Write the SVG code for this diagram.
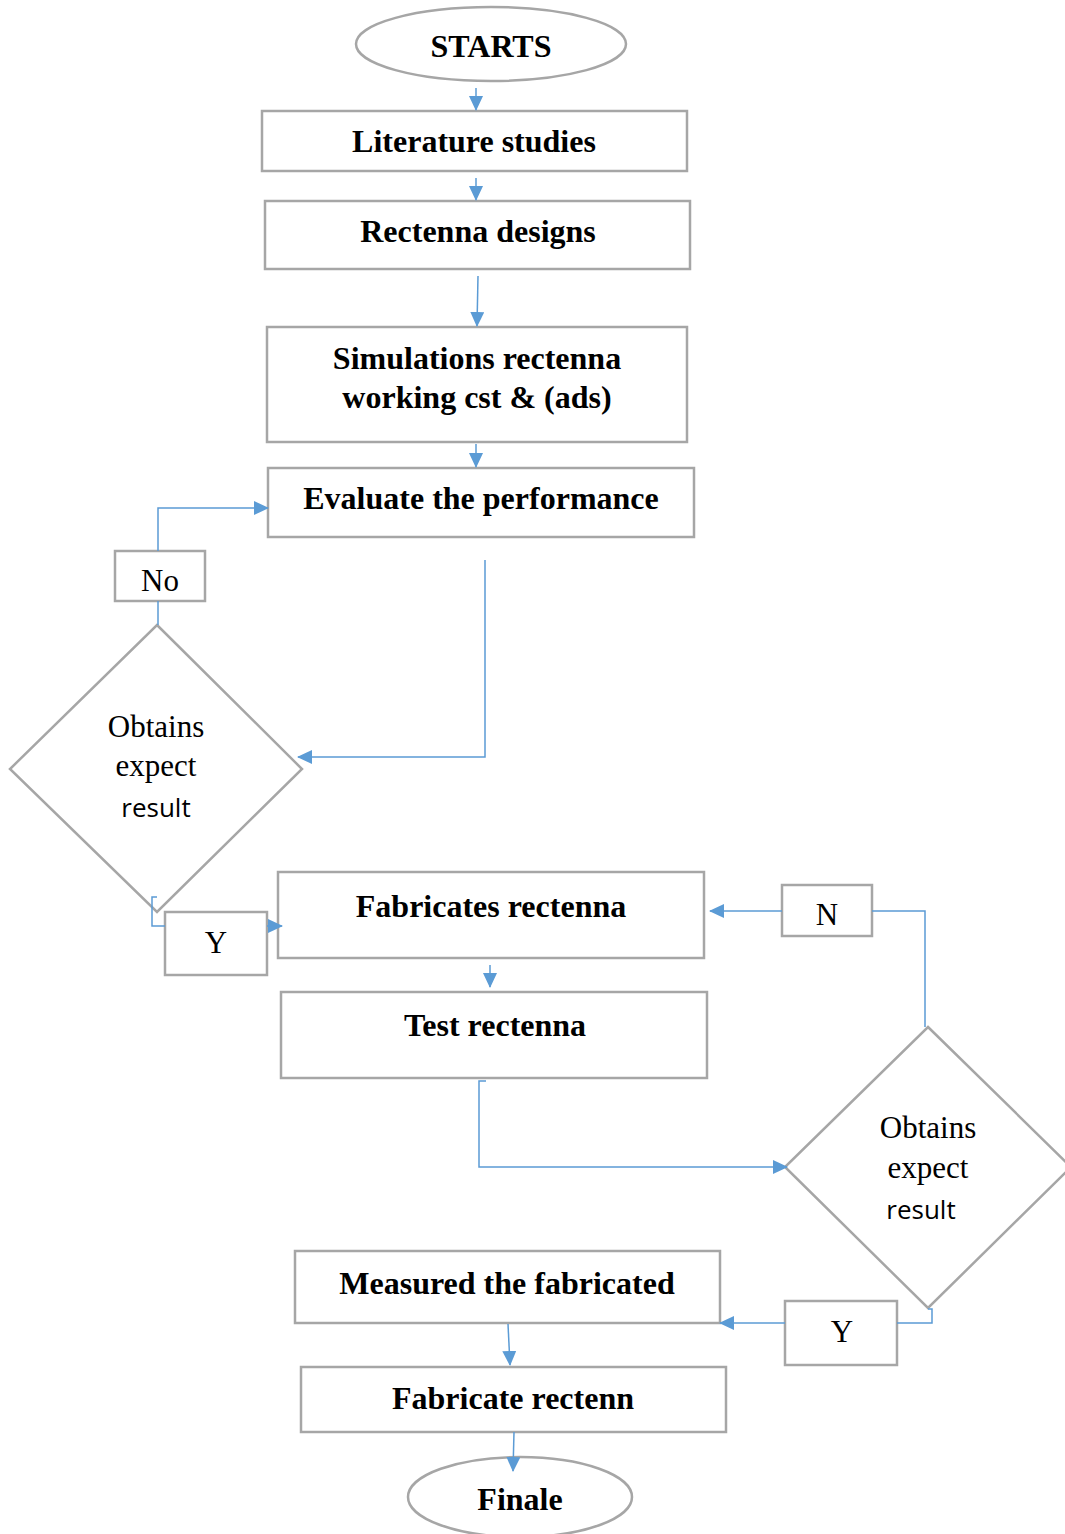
<svg xmlns="http://www.w3.org/2000/svg" width="1065" height="1534" viewBox="0 0 1065 1534">
<style>
.box{fill:#fff;stroke:#a6a6a6;stroke-width:2.5}
.t{font-family:"Liberation Serif",serif;font-weight:bold;font-size:32px;fill:#000;text-anchor:middle}
.r{font-family:"Liberation Serif",serif;font-size:31px;fill:#000;text-anchor:middle}
.s{font-family:"Open Sans","Liberation Sans",sans-serif;font-size:26px;fill:#000;text-anchor:middle}
.c{fill:none;stroke:#5b9bd5;stroke-width:1.5}
</style>
<defs>
<marker id="ah" markerWidth="15" markerHeight="14" refX="14" refY="7" orient="auto" markerUnits="userSpaceOnUse">
<path d="M0,0 L15,7 L0,14 z" fill="#5b9bd5"/>
</marker>
</defs>
<rect width="1065" height="1534" fill="#fff"/>
<g id="start"><ellipse class="box" cx="491" cy="44" rx="135" ry="37"/><text class="t" x="491" y="57">STARTS</text></g>
<g id="literature"><rect class="box" x="262" y="111" width="425" height="60"/><text class="t" x="474" y="152">Literature studies</text></g>
<g id="designs"><rect class="box" x="265" y="201" width="425" height="68"/><text class="t" x="478" y="242">Rectenna designs</text></g>
<g id="simulations"><rect class="box" x="267" y="327" width="420" height="115"/><text class="t" x="477" y="369">Simulations rectenna</text><text class="t" x="477" y="408">working cst &amp; (ads)</text></g>
<g id="evaluate"><rect class="box" x="268" y="468" width="426" height="69"/><text class="t" x="481" y="509">Evaluate the performance</text></g>
<g id="decision1"><polygon class="box" points="157,625 302,769 157,912 10,769"/><text class="r" x="156" y="737">Obtains</text><text class="r" x="156" y="776">expect</text><text class="s" x="156" y="817">result</text></g>
<g id="no"><rect class="box" x="115" y="551" width="90" height="50"/><text class="r" x="160" y="591">No</text></g>
<g id="y1"><rect class="box" x="165" y="912" width="102" height="63"/><text class="r" x="216" y="953">Y</text></g>
<g id="fabricates"><rect class="box" x="278" y="872" width="426" height="86"/><text class="t" x="491" y="917">Fabricates rectenna</text></g>
<g id="test"><rect class="box" x="281" y="992" width="426" height="86"/><text class="t" x="495" y="1036">Test rectenna</text></g>
<g id="decision2"><polygon class="box" points="928,1027 1071,1167 928,1308 785,1167"/><text class="r" x="928" y="1138">Obtains</text><text class="r" x="928" y="1178">expect</text><text class="s" x="921" y="1219">result</text></g>
<g id="n"><rect class="box" x="782" y="885" width="90" height="51"/><text class="r" x="827" y="925">N</text></g>
<g id="y2"><rect class="box" x="785" y="1301" width="112" height="64"/><text class="r" x="842" y="1342">Y</text></g>
<g id="measured"><rect class="box" x="295" y="1251" width="425" height="72"/><text class="t" x="507" y="1294">Measured the fabricated</text></g>
<g id="fabricate"><rect class="box" x="301" y="1367" width="425" height="65"/><text class="t" x="513" y="1409">Fabricate rectenn</text></g>
<g id="finale"><ellipse class="box" cx="520" cy="1497" rx="112" ry="40"/><text class="t" x="520" y="1510">Finale</text></g>
<g id="connectors">
<path class="c" d="M476,88 V110" marker-end="url(#ah)"/>
<path class="c" d="M476,178 V200" marker-end="url(#ah)"/>
<path class="c" d="M478,276 L477,326" marker-end="url(#ah)"/>
<path class="c" d="M476,444 V467" marker-end="url(#ah)"/>
<path class="c" d="M485,560 V757 H298" marker-end="url(#ah)"/>
<path class="c" d="M158,625 V601"/>
<path class="c" d="M158,551 V508 H268" marker-end="url(#ah)"/>
<path class="c" d="M157,897 H152 V926 H165"/>
<path class="c" d="M267,926 H282" marker-end="url(#ah)"/>
<path class="c" d="M490,965 V987" marker-end="url(#ah)"/>
<path class="c" d="M486,1081 H479 V1167 H787" marker-end="url(#ah)"/>
<path class="c" d="M925,1027 V911 H872"/>
<path class="c" d="M782,911 H710" marker-end="url(#ah)"/>
<path class="c" d="M928,1309 H932 V1323 H897"/>
<path class="c" d="M785,1323 H720" marker-end="url(#ah)"/>
<path class="c" d="M508,1324 L510,1365" marker-end="url(#ah)"/>
<path class="c" d="M514,1432 L513,1471" marker-end="url(#ah)"/>
</g>
</svg>
